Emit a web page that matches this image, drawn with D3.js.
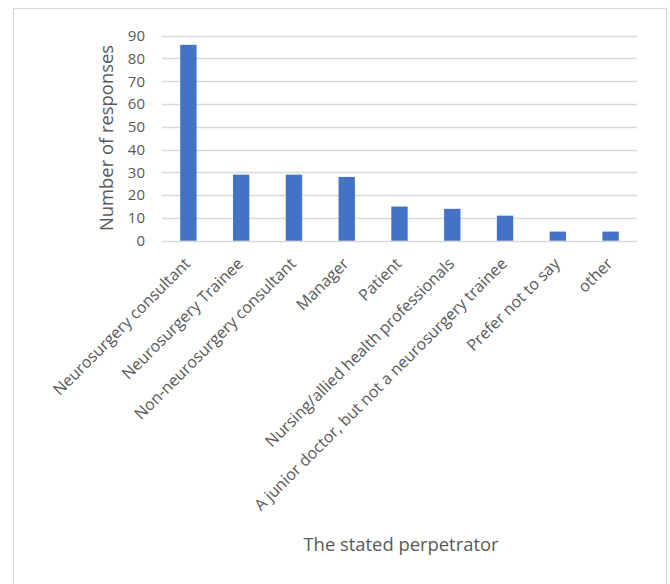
<!DOCTYPE html>
<html><head><meta charset="utf-8">
<script src="https://cdn.jsdelivr.net/npm/d3@7"></script>
<style>
html,body{margin:0;padding:0;background:#fff;}
svg{display:block;}
text{font-family:"Open Sans",sans-serif;fill:#595959;}
</style></head>
<body>
<script>
const categories = ["Neurosurgery consultant","Neurosurgery Trainee","Non-neurosurgery consultant","Manager","Patient","Nursing/allied health professionals","A junior doctor, but not a neurosurgery trainee","Prefer not to say","other"];
const values = [86,29,29,28,15,14,11,4,4];
const yTicks = [0,10,20,30,40,50,60,70,80,90];
const yTitle = "Number of responses";
const xTitle = "The stated perpetrator";

const W = 670, H = 584;
const svg = d3.select("body").append("svg").attr("width", W).attr("height", H);

svg.append("rect").attr("x",13.5).attr("y",8.5).attr("width",653).attr("height",600)
  .attr("fill","#fff").attr("stroke","#d9d9d9").attr("stroke-width",1);

const x = d3.scaleBand().domain(categories).range([162,637]).paddingInner(0.69).paddingOuter(0.345);
const y = d3.scaleLinear().domain([0,90]).range([240.7,35.7]);

svg.append("g").selectAll("line").data(yTicks).join("line")
  .attr("x1",162).attr("x2",637)
  .attr("y1",d=>Math.round(y(d))+0.5).attr("y2",d=>Math.round(y(d))+0.5)
  .attr("stroke","#d9d9d9").attr("stroke-width",1.3);

svg.append("g").selectAll("rect").data(values).join("rect")
  .attr("x",(d,i)=>x(categories[i]))
  .attr("width",x.bandwidth())
  .attr("y",d=>y(d))
  .attr("height",d=>y(0)-y(d))
  .attr("fill","#4472c4");

const yAxis = d3.axisLeft(y).tickValues(yTicks).tickSize(0).tickPadding(17);
const gy = svg.append("g").attr("transform","translate(162,0)").call(yAxis);
gy.select(".domain").remove();
gy.selectAll("text").attr("font-size",15).attr("fill","#595959").style("font-family","'Open Sans',sans-serif");

const xAxis = d3.axisBottom(x).tickSize(0).tickPadding(0);
const gx = svg.append("g").attr("transform","translate(0,"+y(0)+")").call(xAxis);
gx.select(".domain").remove();
gx.selectAll("text")
  .attr("font-size",16).attr("fill","#595959").style("font-family","'Open Sans',sans-serif")
  .attr("text-anchor","end")
  .attr("dy",null).attr("y",0)
  .attr("transform","translate(3,24) rotate(-45)");

svg.append("text").attr("transform","translate(113,138) rotate(-90)")
  .attr("text-anchor","middle").attr("font-size",18.4).text(yTitle);
svg.append("text").attr("x",401).attr("y",551)
  .attr("text-anchor","middle").attr("font-size",18.4).text(xTitle);
</script>
</body></html>
